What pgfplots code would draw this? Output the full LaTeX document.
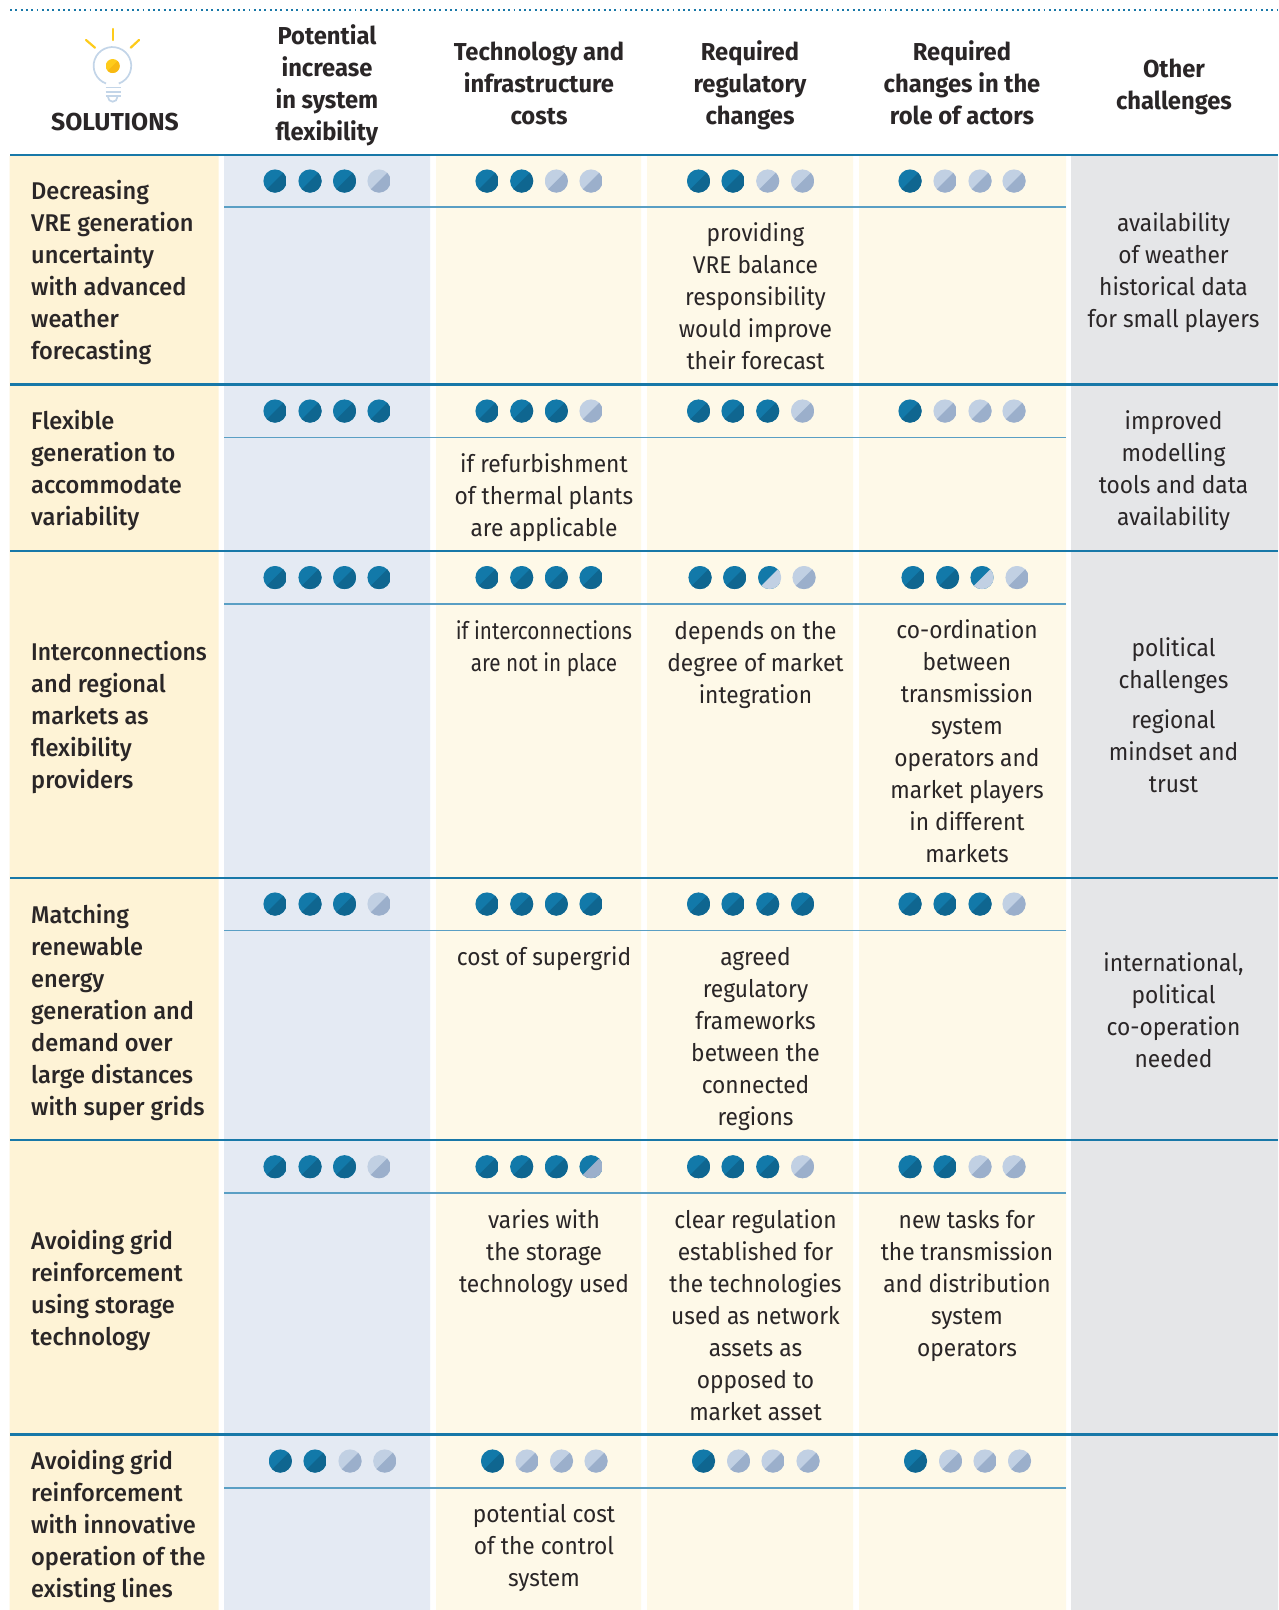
\documentclass[border=0pt]{standalone}
\usepackage{fontspec}
\usepackage{pgfplots}
\pgfplotsset{compat=1.18}
\setmainfont{Fira Sans}
\newfontfamily\bodyfam[FakeStretch=0.94]{Fira Sans}
\newfontfamily\labfam[FakeStretch=0.975]{Fira Sans Medium}
\newfontfamily\headfam[FakeStretch=0.97]{Fira Sans Bold}
\definecolor{ink}{HTML}{2A2627}
\definecolor{blueA}{HTML}{1279A9}
\definecolor{blueB}{HTML}{0F6690}
\definecolor{paleA}{HTML}{C1D0E3}
\definecolor{paleB}{HTML}{9BAFCB}
\definecolor{rule}{HTML}{1878A8}
\definecolor{subrule}{HTML}{5A9FC4}
\definecolor{bgS}{HTML}{FEF3D6}
\definecolor{bgB}{HTML}{E4EAF3}
\definecolor{bgC}{HTML}{FEF9E8}
\definecolor{bgG}{HTML}{E5E6E8}
\definecolor{yelA}{HTML}{FECB1A}
\definecolor{yelB}{HTML}{F8B912}
\definecolor{bulb}{HTML}{C3D5E8}
\newcommand{\twotone}[2]{%
  \begin{pgfscope}%
  \pgfpathcircle{\pgfpointorigin}{\pgfplotmarksize}\pgfusepath{clip}%
  \pgfsetfillcolor{#1}%
  \pgfpathrectangle{\pgfpoint{-\pgfplotmarksize}{-\pgfplotmarksize}}{\pgfpoint{2\pgfplotmarksize}{2\pgfplotmarksize}}\pgfusepath{fill}%
  \pgfsetfillcolor{#2}%
  \pgfpathmoveto{\pgfpoint{-\pgfplotmarksize}{-\pgfplotmarksize}}%
  \pgfpathlineto{\pgfpoint{\pgfplotmarksize}{\pgfplotmarksize}}%
  \pgfpathlineto{\pgfpoint{\pgfplotmarksize}{-\pgfplotmarksize}}%
  \pgfpathclose\pgfusepath{fill}%
  \end{pgfscope}}
\pgfdeclareplotmark{dotF}{\twotone{blueA}{blueB}}
\pgfdeclareplotmark{dotE}{\twotone{paleA}{paleB}}
\pgfdeclareplotmark{dotH}{\twotone{blueA}{paleA}}
\pgfdeclareplotmark{dotD}{\twotone{blueA}{paleB}}
\pgfdeclareplotmark{dotY}{\twotone{yelA}{yelB}}
\newcommand{\bodyf}{\fontsize{24.2}{32}\bodyfam\selectfont}
\newcommand{\headf}{\fontsize{24.5}{32}\headfam\selectfont}
\newcommand{\labf}{\fontsize{24.2}{32}\labfam\selectfont}
\newcommand{\CT}[4]{\node[anchor=north,inner sep=0pt,align=center,font=#1,yshift=22pt,text=ink] at (axis cs:#2,#3) {\rule{0pt}{22pt}#4};}
\newcommand{\LT}[2]{\node[anchor=north west,inner sep=0pt,align=left,font=\labf,yshift=22pt,text=ink] at (axis cs:31,#1) {\rule{0pt}{22pt}#2};}
\begin{document}
\begin{tikzpicture}
\begin{axis}[
  scale only axis,width=1278pt,height=1610pt,
  xmin=0,xmax=1278,ymin=0,ymax=1610,y dir=reverse,
  axis lines=none,clip=false,
  mark size=11.6pt]
\coordinate (tl) at (axis cs:0,0);
\coordinate (br) at (axis cs:1278,1610);
% page
\addplot[draw=none,fill=white] coordinates {(0,0) (1278,0) (1278,1610) (0,1610) (0,0)};
% column backgrounds
\addplot[draw=none,fill=bgS] coordinates {(9.5,156) (218.5,156) (218.5,1610) (9.5,1610) (9.5,156)};
\addplot[draw=none,fill=bgB] coordinates {(224,156) (430,156) (430,1610) (224,1610) (224,156)};
\addplot[draw=none,fill=bgC] coordinates {(436,156) (641,156) (641,1610) (436,1610) (436,156)};
\addplot[draw=none,fill=bgC] coordinates {(647,156) (853,156) (853,1610) (647,1610) (647,156)};
\addplot[draw=none,fill=bgC] coordinates {(859,156) (1066,156) (1066,1610) (859,1610) (859,156)};
\addplot[draw=none,fill=bgG] coordinates {(1071,156) (1278,156) (1278,1610) (1071,1610) (1071,156)};
% top dotted line
\addplot[rule,line width=1.8pt,dash pattern=on 1.9pt off 3.4pt] coordinates {(10,10) (1278,10)};
% row rules
\addplot[rule,line width=2.6pt] coordinates {(10,155) (1278,155)};
\addplot[rule,line width=2.6pt] coordinates {(10,384.7) (1278,384.7)};
\addplot[rule,line width=2.6pt] coordinates {(10,551) (1278,551)};
\addplot[rule,line width=2.6pt] coordinates {(10,878) (1278,878)};
\addplot[rule,line width=2.6pt] coordinates {(10,1140) (1278,1140)};
\addplot[rule,line width=2.6pt] coordinates {(10,1434.7) (1278,1434.7)};
% sub rules
\addplot[subrule,line width=1.3pt] coordinates {(224,207) (1066,207)};
\addplot[subrule,line width=1.3pt] coordinates {(224,437.7) (1066,437.7)};
\addplot[subrule,line width=1.3pt] coordinates {(224,604) (1066,604)};
\addplot[subrule,line width=1.3pt] coordinates {(224,930.7) (1066,930.7)};
\addplot[subrule,line width=1.3pt] coordinates {(224,1193) (1066,1193)};
\addplot[subrule,line width=1.3pt] coordinates {(224,1488) (1066,1488)};
% full ratings
\addplot[only marks,mark=dotF] coordinates {
 (275,181) (310,181) (344.5,181)
 (487,181) (521.7,181)
 (698.5,181) (733,181)
 (910,181)
 (275,411) (310,411) (344.5,411) (379,411)
 (487,411) (521.7,411) (556.3,411)
 (698.5,411) (733,411) (767.7,411)
 (910,411)
 (275,577.5) (310,577.5) (344.5,577.5) (379,577.5)
 (487,577.5) (521.7,577.5) (556.3,577.5) (591,577.5)
 (700,577.5) (734.6,577.5)
 (913,577.5) (947.6,577.5)
 (275,904) (310,904) (344.5,904)
 (487,904) (521.7,904) (556.3,904) (591,904)
 (698.5,904) (733,904) (767.7,904) (802.5,904)
 (910,904) (945,904) (980,904)
 (275,1166.7) (310,1166.7) (344.5,1166.7)
 (487,1166.7) (521.7,1166.7) (556.3,1166.7)
 (698.5,1166.7) (733,1166.7) (767.7,1166.7)
 (910,1166.7) (945,1166.7)
 (280.3,1461) (315,1461)
 (492.5,1461)
 (703.5,1461)
 (915.5,1461)
};
% empty ratings
\addplot[only marks,mark=dotE] coordinates {
 (379,181)
 (556.3,181) (591,181)
 (767.7,181) (802.5,181)
 (945,181) (980,181) (1014,181)
 (591,411)
 (802.5,411)
 (945,411) (980,411) (1014,411)
 (804,577.5)
 (1017,577.5)
 (379,904)
 (1014,904)
 (379,1166.7)
 (802.5,1166.7)
 (980,1166.7) (1014,1166.7)
 (350,1461) (384.7,1461)
 (527,1461) (561.5,1461) (596,1461)
 (738.5,1461) (773,1461) (808,1461)
 (950.5,1461) (985,1461) (1019.5,1461)
};
% half ratings
\addplot[only marks,mark=dotH] coordinates {(769.6,577.5) (982,577.5)};
\addplot[only marks,mark=dotD] coordinates {(591,1166.7)};
% light bulb
\addplot[only marks,mark=dotY,mark size=7pt] coordinates {(112.7,66)};
\draw[yelA,line width=2.2pt,line cap=round] (axis cs:112.7,29)--(axis cs:112.7,40);
\draw[yelA,line width=2.2pt,line cap=round] (axis cs:86,40)--(axis cs:95,47.7);
\draw[yelA,line width=2.2pt,line cap=round] (axis cs:139,40)--(axis cs:130.7,47.7);
\draw[bulb,line width=1.7pt] (axis cs:106,83.5) arc[start angle=250,end angle=-70,radius=18.8pt];
\draw[bulb,line width=1.7pt] (axis cs:105.5,87.5)--(axis cs:120.5,87.5);
\draw[bulb,line width=1.7pt] (axis cs:105.5,91.8)--(axis cs:120.5,91.8);
\draw[bulb,line width=1.7pt] (axis cs:105.5,96)--(axis cs:120.5,96);
\draw[bulb,line width=1.7pt] (axis cs:108,97) arc[start angle=180,end angle=360,radius=4.7pt];
% headers
\node[anchor=base,inner sep=0pt,font=\fontsize{24.5}{32}\headfam\selectfont,text=ink] at (axis cs:115,130.5) {\scalebox{1.04}[1]{SOLUTIONS}};
\CT{\headf}{327}{44}{Potential\\increase\\in system\\flexibility}
\CT{\headf}{539}{60.5}{Technology and\\infrastructure\\costs}
\CT{\headf}{750}{60.5}{Required\\regulatory\\changes}
\CT{\headf}{962}{60.5}{Required\\changes in the\\role of actors}
\CT{\headf}{1174}{77}{Other\\challenges}
% solutions
\LT{199}{Decreasing\\VRE generation\\uncertainty\\with advanced\\weather\\forecasting}
\LT{429}{Flexible\\generation to\\accommodate\\variability}
\LT{660}{\scalebox{0.97}[1]{Interconnections}\\and regional\\markets as\\flexibility\\providers}
\LT{923}{Matching\\renewable\\energy\\generation and\\demand over\\large distances\\with super grids}
\LT{1249.3}{Avoiding grid\\reinforcement\\using storage\\technology}
\LT{1469.3}{Avoiding grid\\reinforcement\\with innovative\\operation of the\\existing lines}
% cells
\CT{\bodyf}{755.5}{241}{providing\\VRE balance\\responsibility\\would improve\\their forecast}
\CT{\bodyf}{1173.5}{230.8}{availability\\of weather\\historical data\\for small players}
\CT{\bodyf}{544}{472}{if refurbishment\\of thermal plants\\are applicable}
\CT{\bodyf}{1173.5}{429}{improved\\modelling\\tools and data\\availability}
\CT{\bodyf}{544}{639}{\scalebox{0.91}[1]{if interconnections}\\\scalebox{0.91}[1]{are not in place}}
\CT{\bodyf}{755.5}{639}{depends on the\\degree of market\\integration}
\CT{\bodyf}{967}{638.5}{co-ordination\\between\\transmission\\system\\operators and\\market players\\in different\\markets}
\CT{\bodyf}{1173.5}{656.7}{political\\challenges}
\CT{\bodyf}{1173.5}{728.6}{regional\\mindset and\\trust}
\CT{\bodyf}{544}{965.5}{cost of supergrid}
\CT{\bodyf}{755.5}{965.7}{agreed\\regulatory\\frameworks\\between the\\connected\\regions}
\CT{\bodyf}{1173.5}{971}{international,\\political\\co-operation\\needed}
\CT{\bodyf}{544}{1228.5}{varies with\\the storage\\technology used}
\CT{\bodyf}{755.5}{1228.5}{clear regulation\\established for\\the technologies\\used as network\\assets as\\opposed to\\market asset}
\CT{\bodyf}{967}{1228.5}{new tasks for\\the transmission\\and distribution\\system\\operators}
\CT{\bodyf}{544}{1522}{potential cost\\of the control\\system}
\end{axis}
\pgfresetboundingbox
\path (tl) rectangle (br);
\end{tikzpicture}
\end{document}
